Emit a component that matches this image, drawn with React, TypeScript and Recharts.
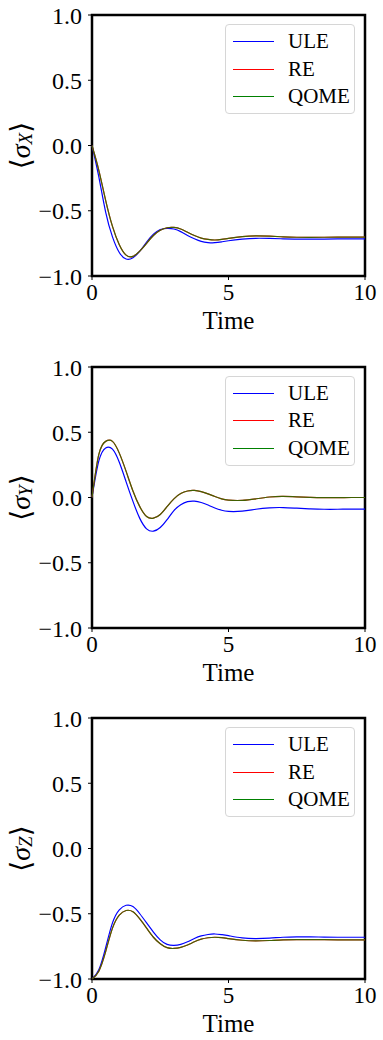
import { Legend, Line, LineChart, ReferenceArea, XAxis, YAxis } from 'recharts'

const times = [0, 0.25, 0.5, 0.75, 1, 1.25, 1.5, 1.75, 2, 2.25, 2.5, 2.75, 3, 3.25, 3.5, 3.75, 4, 4.25, 4.5, 4.75, 5, 5.5, 6, 6.5, 7, 7.5, 8, 8.5, 9, 9.5, 10]

const sxULE = [0, -0.24, -0.51, -0.7, -0.82, -0.87, -0.86, -0.81, -0.74, -0.68, -0.645, -0.635, -0.64, -0.66, -0.69, -0.715, -0.735, -0.744, -0.745, -0.738, -0.73, -0.718, -0.711, -0.712, -0.715, -0.717, -0.718, -0.717, -0.716, -0.716, -0.716]
const sxRE = [0, -0.19, -0.42, -0.62, -0.76, -0.84, -0.85, -0.81, -0.75, -0.69, -0.65, -0.63, -0.628, -0.64, -0.665, -0.69, -0.71, -0.72, -0.724, -0.72, -0.712, -0.698, -0.692, -0.695, -0.7, -0.703, -0.704, -0.703, -0.702, -0.702, -0.702]
const sxQOME = [...sxRE]

const syULE = [0, 0.28, 0.38, 0.37, 0.27, 0.12, -0.03, -0.16, -0.24, -0.258, -0.23, -0.17, -0.1, -0.055, -0.032, -0.028, -0.038, -0.058, -0.08, -0.098, -0.107, -0.105, -0.09, -0.079, -0.077, -0.082, -0.087, -0.09, -0.09, -0.089, -0.089]
const syRE = [0, 0.33, 0.43, 0.43, 0.34, 0.2, 0.05, -0.07, -0.145, -0.158, -0.13, -0.07, -0.01, 0.03, 0.05, 0.054, 0.045, 0.028, 0.008, -0.01, -0.02, -0.022, -0.01, 0.004, 0.008, 0.005, 0.001, -0.001, -0.001, 0, 0]
const syQOME = [...syRE]

const szULE = [-1, -0.93, -0.76, -0.57, -0.47, -0.435, -0.445, -0.5, -0.57, -0.64, -0.7, -0.735, -0.743, -0.735, -0.715, -0.69, -0.67, -0.659, -0.655, -0.66, -0.668, -0.685, -0.69, -0.687, -0.68, -0.677, -0.677, -0.679, -0.68, -0.68, -0.68]
const szRE = [-1, -0.94, -0.79, -0.61, -0.51, -0.475, -0.485, -0.54, -0.61, -0.68, -0.73, -0.76, -0.766, -0.758, -0.74, -0.715, -0.695, -0.684, -0.68, -0.683, -0.69, -0.703, -0.708, -0.705, -0.7, -0.698, -0.698, -0.699, -0.7, -0.7, -0.7]
const szQOME = [...szRE]

const yTicks = [-1, -0.5, 0, 0.5, 1]
const xTicks = [0, 5, 10]
const seriesNames = ['ULE', 'RE', 'QOME']
const seriesColors = ['#0000ff', '#ff0000', '#008000']

const FONT = '"Liberation Serif", "DejaVu Serif", serif'

const panels = [
  { sub: 'X', ule: sxULE, re: sxRE, qome: sxQOME },
  { sub: 'Y', ule: syULE, re: syRE, qome: syQOME },
  { sub: 'Z', ule: szULE, re: szRE, qome: szQOME },
]

const fmtY = (v: number) => v.toFixed(1).replace('-', '\u2212')

function LegendBox() {
  return (
    <div
      style={{
        position: 'relative',
        width: 130,
        height: 90,
        border: '1px solid #d6d6d6',
        borderRadius: 4,
        background: 'rgba(255,255,255,0.8)',
        fontFamily: FONT,
        fontSize: 21,
        color: '#000',
        boxSizing: 'border-box',
      }}
    >
      {seriesNames.map((name, i) => (
        <div key={name} style={{ position: 'absolute', left: 0, top: 3 + i * 27.7, height: 27, display: 'flex', alignItems: 'center' }}>
          <svg width={62} height={27} style={{ display: 'block' }}>
            <line x1={7} x2={48} y1={13.5} y2={13.5} stroke={seriesColors[i]} strokeWidth={1.2} />
          </svg>
          <span style={{ lineHeight: '27px' }}>{name}</span>
        </div>
      ))}
    </div>
  )
}

function Panel({ sub, ule, re, qome }: { sub: string; ule: number[]; re: number[]; qome: number[] }) {
  const data = times.map((t, i) => ({ t, ULE: ule[i], RE: re[i], QOME: qome[i] }))
  const yLabel = (props: any) => {
    const vb = props.viewBox || { x: 0, y: 15, width: 92, height: 261 }
    const cx = 20
    const cy = vb.y + vb.height / 2
    return (
      <text
        x={cx}
        y={cy}
        transform={`rotate(-90, ${cx}, ${cy})`}
        textAnchor="middle"
        dominantBaseline="central"
        fontFamily={FONT}
        fontSize={28}
        fill="#000"
      >
        {'\u27E8'}
        <tspan fontStyle="italic">σ</tspan>
        <tspan fontStyle="italic" fontSize={19} dy={5}>{sub}</tspan>
        <tspan dy={-5}>{'\u27E9'}</tspan>
      </text>
    )
  }
  const xLabel = (props: any) => {
    const vb = props.viewBox || { x: 92, y: 276, width: 273, height: 76 }
    return (
      <text x={vb.x + vb.width / 2} y={vb.y + 53} textAnchor="middle" fontFamily={FONT} fontSize={25} fill="#000">
        Time
      </text>
    )
  }
  return (
    <LineChart width={383} height={352} data={data} margin={{ top: 15, right: 18, left: 0, bottom: 0 }}>
      <XAxis
        dataKey="t"
        type="number"
        domain={[0, 10]}
        ticks={xTicks}
        height={76}
        axisLine={false}
        tickSize={4}
        tickMargin={4}
        tickLine={{ stroke: '#000', strokeWidth: 1 }}
        tick={{ fill: '#000', fontSize: 23, fontFamily: FONT }}
        label={{ content: xLabel }}
      />
      <YAxis
        type="number"
        domain={[-1, 1]}
        ticks={yTicks}
        width={92}
        axisLine={false}
        tickSize={4}
        tickMargin={6}
        tickFormatter={fmtY}
        tickLine={{ stroke: '#000', strokeWidth: 1 }}
        tick={{ fill: '#000', fontSize: 24, fontFamily: FONT }}
        label={{ content: yLabel }}
      />
      <Line type="natural" dataKey="ULE" stroke={seriesColors[0]} strokeWidth={1.2} dot={false} isAnimationActive={false} />
      <Line type="natural" dataKey="RE" stroke={seriesColors[1]} strokeWidth={1.2} dot={false} isAnimationActive={false} />
      <Line type="natural" dataKey="QOME" stroke={seriesColors[2]} strokeOpacity={0.75} strokeWidth={1.2} dot={false} isAnimationActive={false} />
      <ReferenceArea x1={0} x2={10} y1={-1} y2={1} fill="none" stroke="#000" strokeWidth={2.5} ifOverflow="visible" />
      <Legend
        layout="vertical"
        align="center"
        verticalAlign="middle"
        wrapperStyle={{ left: 225, top: 24, width: 130 }}
        content={() => <LegendBox />}
      />
    </LineChart>
  )
}

export default function App() {
  return (
    <div style={{ position: 'absolute', left: 0, top: 0, width: 383, height: 1040, background: '#fff' }}>
      {panels.map((p, i) => (
        <div key={p.sub} style={{ position: 'absolute', left: 0, top: i * 351.5 }}>
          <Panel {...p} />
        </div>
      ))}
    </div>
  )
}
